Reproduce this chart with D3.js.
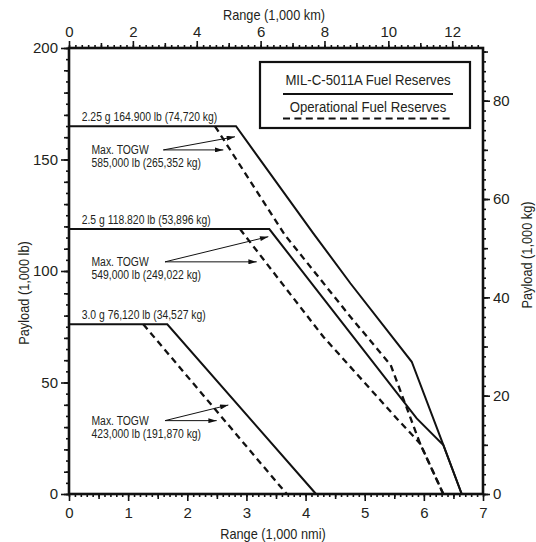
<!DOCTYPE html>
<html lang="en">
<head>
<meta charset="UTF-8">
<title>Payload Range</title>
<script src="https://cdn.jsdelivr.net/npm/d3@7"></script>
<style>
  body { margin: 0; background: #fff; }
  text { font-family: "Liberation Sans Narrow", "Arial Narrow", "Liberation Sans", Arial, sans-serif; fill: #231f20; }
</style>
</head>
<body>
<div id="chart"></div>
<script>
// payload (1,000 lb) vs range (1,000 nmi)
const milRange225 = [[0, 164.9], [2.824, 164.9], [4.131, 116.9], [4.757, 94.5], [5.795, 59.3], [6.329, 22.0], [6.640, 0]];
const milRange25 = [[0, 118.82], [3.387, 118.82], [4.757, 72.1], [5.879, 33.9], [6.329, 22.0], [6.640, 0]];
const milRange30 = [[0, 76.12], [1.662, 76.12], [4.177, 0]];
const opRange225 = [[2.469, 164.9], [3.652, 116.1], [4.757, 79.5], [5.44, 57.8], [5.935, 22.7], [6.329, 0]];
const opRange25 = [[2.891, 118.82], [4.30, 70.5], [5.541, 33.9], [5.935, 22.7], [6.329, 0]];
const opRange30 = [[1.256, 76.12], [3.681, 0]];

const gLabels = ["2.25 g 164.900 lb (74,720 kg)", "2.5 g 118.820 lb (53,896 kg)", "3.0 g 76,120 lb (34,527 kg)"];
const gLabelPayload = [169.2, 122.9, 80.3];
const togwLabels = ["585,000 lb (265,352 kg)", "549,000 lb (249,022 kg)", "423,000 lb (191,870 kg)"];
const togwPayload = [154.3, 104.1, 32.9];
// arrow tail and the two tips (range, payload)
const arrowTails = [[1.595, 154.3], [1.623, 104.1], [1.623, 32.9]];
const arrowMilTips = [[2.807, 160.2], [3.370, 115.4], [2.694, 39.9]];
const arrowOpTips = [[2.609, 154.3], [3.174, 104.1], [2.497, 32.9]];

const nmiTicks = [0, 1, 2, 3, 4, 5, 6, 7];
const kmTicks = [0, 2, 4, 6, 8, 10, 12];
const lbTicks = [0, 50, 100, 150, 200];
const kgTicks = [0, 20, 40, 60, 80];
const legendLabels = ["MIL-C-5011A Fuel Reserves", "Operational Fuel Reserves"];

const W = 536, H = 542;
const x = d3.scaleLinear().domain([0, 7]).range([69, 483]);
const y = d3.scaleLinear().domain([0, 200]).range([494, 48]);
const xKm = d3.scaleLinear().domain([0, 7 * 1.852]).range([69, 483]);
const yKg = d3.scaleLinear().domain([0, 200 / 2.20462]).range([494, 48]);

const svg = d3.select("#chart").append("svg")
  .attr("width", W).attr("height", H);

svg.append("defs").append("marker")
  .attr("id", "arrow")
  .attr("viewBox", "0 0 10 6")
  .attr("refX", 10).attr("refY", 3)
  .attr("markerWidth", 10).attr("markerHeight", 5)
  .attr("markerUnits", "userSpaceOnUse")
  .attr("orient", "auto")
  .append("path").attr("d", "M0,0L10,3L0,6Z").attr("fill", "#111");

// the reference uses a condensed face; squeeze the regular one to match
function narrow(sel, k) {
  sel.each(function () {
    const len = this.getComputedTextLength();
    d3.select(this).attr("textLength", len * k).attr("lengthAdjust", "spacingAndGlyphs");
  });
  return sel;
}

function range(a, b, step) {
  return d3.range(Math.round((b - a) / step) + 1).map(i => +(a + i * step).toFixed(4));
}

function tickAxis(axisFn, scale, values, size, labels, transform) {
  const ax = axisFn(scale).tickValues(values).tickSize(size).tickSizeOuter(0);
  ax.tickFormat(labels ? d3.format("d") : "");
  const g = svg.append("g").attr("transform", transform).call(ax);
  g.select(".domain").remove();
  g.selectAll("line").attr("stroke", "#111").attr("stroke-width", 1.6);
  g.selectAll("text").style("font-size", "15px").attr("fill", "#231f20");
  return g;
}

// bottom axis (nmi)
tickAxis(d3.axisBottom, x, range(0, 7, 0.1), 3, false, "translate(0,494)");
tickAxis(d3.axisBottom, x, range(0.5, 6.5, 1), 5, false, "translate(0,494)");
tickAxis(d3.axisBottom, x, nmiTicks, 7, true, "translate(0,494)").selectAll("text").attr("dy", "0.9em");
// top axis (km)
tickAxis(d3.axisTop, xKm, range(0, 12.8, 0.2), 3, false, "translate(0,48)");
tickAxis(d3.axisTop, xKm, range(1, 11, 2), 5, false, "translate(0,48)");
tickAxis(d3.axisTop, xKm, kmTicks, 7, true, "translate(0,48)").selectAll("text").attr("dy", "-0.05em");
// left axis (lb)
tickAxis(d3.axisLeft, y, range(0, 200, 5), 3, false, "translate(69,0)");
tickAxis(d3.axisLeft, y, range(0, 200, 10), 5, false, "translate(69,0)");
tickAxis(d3.axisLeft, y, lbTicks, 8, true, "translate(69,0)");
// right axis (kg)
tickAxis(d3.axisRight, yKg, range(0, 90, 2), 3, false, "translate(483,0)");
tickAxis(d3.axisRight, yKg, range(0, 90, 10), 5, false, "translate(483,0)");
tickAxis(d3.axisRight, yKg, kgTicks, 7, true, "translate(483,0)");

// frame
svg.append("rect")
  .attr("x", x(0)).attr("y", y(200))
  .attr("width", x(7) - x(0)).attr("height", y(0) - y(200))
  .attr("fill", "none").attr("stroke", "#111").attr("stroke-width", 2.6);

// axis titles
narrow(svg.append("text").attr("x", 274).attr("y", 20).attr("text-anchor", "middle")
  .style("font-size", "15px").text("Range (1,000 km)"), 0.85);
narrow(svg.append("text").attr("x", 273).attr("y", 539).attr("text-anchor", "middle")
  .style("font-size", "15px").text("Range (1,000 nmi)"), 0.85);
narrow(svg.append("text").attr("transform", "translate(29,293) rotate(-90)").attr("text-anchor", "middle")
  .style("font-size", "15px").text("Payload (1,000 lb)"), 0.85);
narrow(svg.append("text").attr("transform", "translate(532,255) rotate(-90)").attr("text-anchor", "middle")
  .style("font-size", "15px").text("Payload (1,000 kg)"), 0.85);

const line = d3.line().x(d => x(d[0])).y(d => y(d[1]));

[milRange225, milRange25, milRange30].forEach(d => {
  svg.append("path").attr("d", line(d))
    .attr("fill", "none").attr("stroke", "#111").attr("stroke-width", 2)
    .attr("stroke-linejoin", "miter");
});
[opRange225, opRange25, opRange30].forEach(d => {
  svg.append("path").attr("d", line(d))
    .attr("fill", "none").attr("stroke", "#111").attr("stroke-width", 2.3)
    .attr("stroke-dasharray", "6.5,4.5");
});

// annotations
gLabels.forEach((t, i) => {
  narrow(svg.append("text").attr("x", x(0.215)).attr("y", y(gLabelPayload[i])).attr("dy", "0.35em")
    .style("font-size", "12.5px").text(t), 0.83);
  narrow(svg.append("text").attr("x", x(0.38)).attr("y", y(togwPayload[i])).attr("dy", "0.35em")
    .style("font-size", "12.5px").text("Max. TOGW"), 0.83);
  narrow(svg.append("text").attr("x", x(0.38)).attr("y", y(togwPayload[i])).attr("dy", "1.4em")
    .style("font-size", "12.5px").text(togwLabels[i]), 0.83);
  [arrowMilTips[i], arrowOpTips[i]].forEach(tip => {
    svg.append("line")
      .attr("x1", x(arrowTails[i][0])).attr("y1", y(arrowTails[i][1]))
      .attr("x2", x(tip[0])).attr("y2", y(tip[1]))
      .attr("stroke", "#111").attr("stroke-width", 1)
      .attr("marker-end", "url(#arrow)");
  });
});

// legend
const lg = svg.append("g");
lg.append("rect").attr("x", 260).attr("y", 62).attr("width", 210).attr("height", 66)
  .attr("fill", "#fff").attr("stroke", "#111").attr("stroke-width", 2.2);
narrow(lg.append("text").attr("x", 368).attr("y", 80).attr("dy", "0.35em").attr("text-anchor", "middle")
  .style("font-size", "15.5px").text(legendLabels[0]), 0.85);
lg.append("line").attr("x1", 283).attr("x2", 453).attr("y1", 94).attr("y2", 94)
  .attr("stroke", "#111").attr("stroke-width", 2);
narrow(lg.append("text").attr("x", 368).attr("y", 106.5).attr("dy", "0.35em").attr("text-anchor", "middle")
  .style("font-size", "15.5px").text(legendLabels[1]), 0.85);
lg.append("line").attr("x1", 283).attr("x2", 453).attr("y1", 118.5).attr("y2", 118.5)
  .attr("stroke", "#111").attr("stroke-width", 2.2).attr("stroke-dasharray", "7,4.4");
</script>
</body>
</html>
